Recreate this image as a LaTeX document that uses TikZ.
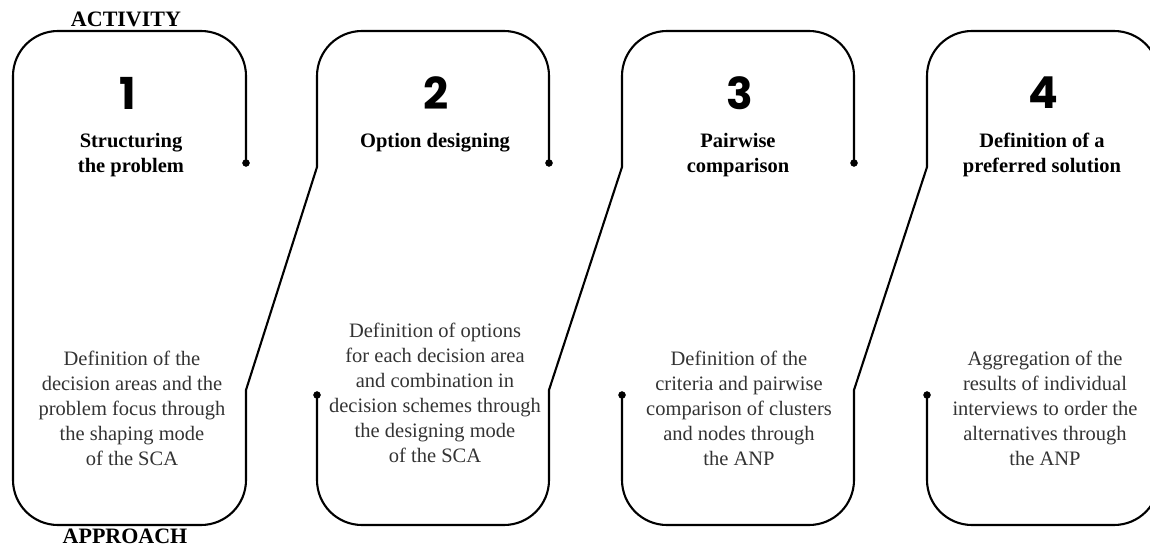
\documentclass[tikz,border=0pt]{standalone}
\usepackage{fontspec}
\setmainfont{Liberation Serif}
\newfontfamily\numfont{Poppins}
\usepackage{tikz}

\tikzset{
  stepnum/.style={font=\numfont\bfseries\fontsize{44}{44}\selectfont},
  steptitle/.style={anchor=north,inner sep=0pt,align=center,font=\bfseries\fontsize{20.5}{25}\selectfont},
  steptext/.style={anchor=north,inner sep=0pt,align=center,text=black!80,font=\fontsize{20.5}{25}\selectfont},
  rowlabel/.style={anchor=base,inner sep=0pt,font=\bfseries\fontsize{22}{22}\selectfont}
}

\begin{document}
\begin{tikzpicture}[x=1pt,y=1pt]
\clip (0,0) rectangle (1150,547);
% outline of the four steps
\draw[line width=2.1pt] (246,384) -- (246,471) arc[start angle=0,end angle=90,radius=45] -- (58,516) arc[start angle=90,end angle=180,radius=45] -- (13,67) arc[start angle=180,end angle=270,radius=45] -- (201,22) arc[start angle=270,end angle=360,radius=45] -- (246,157) -- (317,380) -- (317,471) arc[start angle=180,end angle=90,radius=45] -- (504,516) arc[start angle=90,end angle=0,radius=45] -- (549,384);
\draw[line width=2.1pt] (317,152) -- (317,67) arc[start angle=180,end angle=270,radius=45] -- (504,22) arc[start angle=270,end angle=360,radius=45] -- (549,157) -- (622,380) -- (622,471) arc[start angle=180,end angle=90,radius=45] -- (809,516) arc[start angle=90,end angle=0,radius=45] -- (854,384);
\draw[line width=2.1pt] (622,152) -- (622,67) arc[start angle=180,end angle=270,radius=45] -- (809,22) arc[start angle=270,end angle=360,radius=45] -- (854,157) -- (927,380) -- (927,471) arc[start angle=180,end angle=90,radius=45] -- (1114,516) arc[start angle=90,end angle=0,radius=45] -- (1159,67) arc[start angle=0,end angle=-90,radius=45] -- (972,22) arc[start angle=270,end angle=180,radius=45] -- (927,152);
\draw [fill] (246,384) circle [radius=3.5];
\draw [fill] (549,384) circle [radius=3.5];
\draw [fill] (854,384) circle [radius=3.5];
\draw [fill] (317,152) circle [radius=3.5];
\draw [fill] (622,152) circle [radius=3.5];
\draw [fill] (927,152) circle [radius=3.5];
% labels
\node[rowlabel] (activity) at (126,520) {ACTIVITY};
\node[rowlabel] (approach) at (125,4) {APPROACH};
\node[stepnum] (num1) at (128,454) {1};
\node[stepnum] (num2) at (436,454) {2};
\node[stepnum] (num3) at (740,454) {3};
\node[stepnum] (num4) at (1043,454) {4};
\node[steptitle] (act1) at (131,414) {Structuring\\the problem};
\node[steptitle] (act2) at (435,414) {Option designing};
\node[steptitle] (act3) at (738,414) {Pairwise\\comparison};
\node[steptitle] (act4) at (1042,414) {Definition of a\\preferred solution};
\node[steptext] (app1) at (132,196) {Definition of the\\decision areas and the\\problem focus through\\the shaping mode\\of the SCA};
\node[steptext] (app2) at (435,224) {Definition of options\\for each decision area\\and combination in\\decision schemes through\\the designing mode\\of the SCA};
\node[steptext] (app3) at (739,196) {Definition of the\\criteria and pairwise\\comparison of clusters\\and nodes through\\the ANP};
\node[steptext] (app4) at (1045,196) {Aggregation of the\\results of individual\\interviews to order the\\alternatives through\\the ANP};
\end{tikzpicture}
\end{document}
